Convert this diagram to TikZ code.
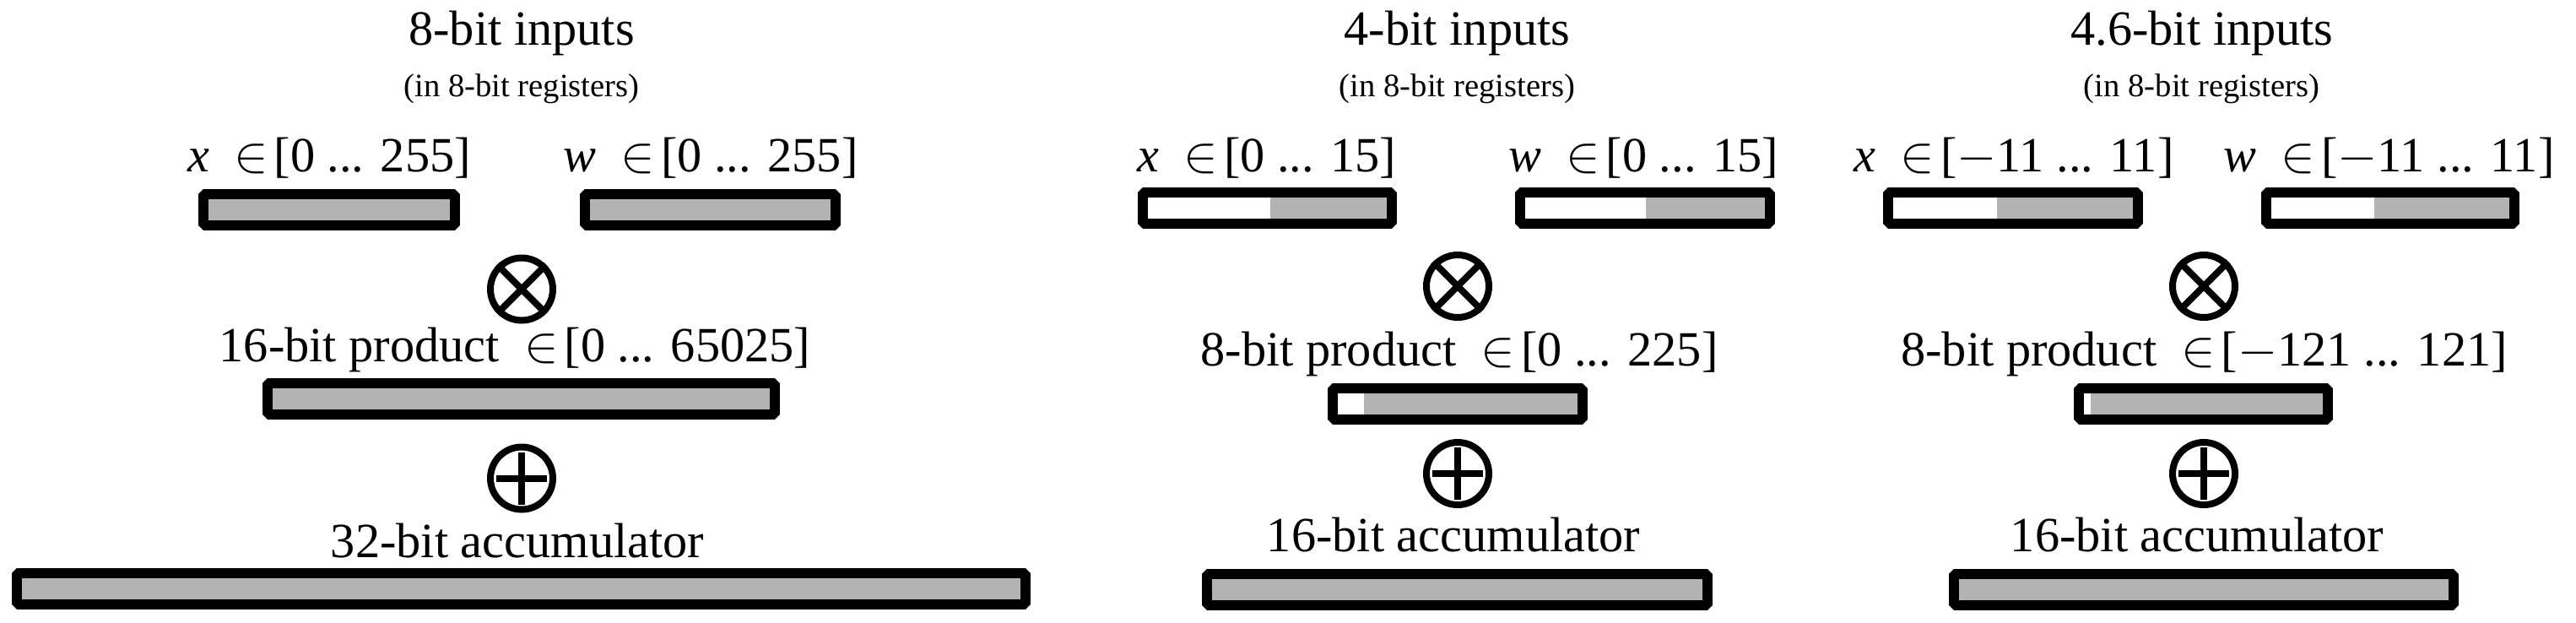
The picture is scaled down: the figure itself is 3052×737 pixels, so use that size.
\documentclass[tikz,border=0pt]{standalone}
\usepackage{fontspec}
\setmainfont{Liberation Serif}
\usetikzlibrary{calc}
\definecolor{regfill}{RGB}{179,179,179}
\tikzset{
  lbl/.style={font=\fontsize{16.6}{20}\selectfont, anchor=base, inner sep=0pt},
  sublbl/.style={font=\fontsize{11}{13}\selectfont, anchor=base, inner sep=0pt},
  regline/.style={draw=black, line width=1.2mm, line join=bevel},
  opcirc/.style={circle, draw=black, line width=0.8mm, minimum size=7.4mm, inner sep=0pt},
  opbar/.style={line width=0.8mm},
}
% #1 left outer x, #2 right outer x, #3 top outer y, #4 x where gray begins
\newcommand{\regbox}[4]{%
  \fill[regfill] (#4,#3+6) rectangle (#2-6,#3+43);
  \draw[regline] (#1+6,#3+6) rectangle (#2-6,#3+43);
}
\newcommand{\inrange}[1]{\hspace{.5em}$\in$\hspace{.12em}[#1]}
\newcommand{\xlbl}[1]{\textit{x}\inrange{#1}}
\newcommand{\wlbl}[1]{\textit{w}\inrange{#1}}
\begin{document}
\begin{tikzpicture}[x=0.1mm, y=-0.1mm]
\useasboundingbox (0,0) rectangle (3052,737);

% ---------- left group: 8-bit ----------
\node[lbl] (titleL) at (618,53) {8-bit inputs};
\node[sublbl] (subL) at (618,114) {(in 8-bit registers)};
\node[lbl] (xlabL) at (390,203) {\xlbl{0 ... 255}};
\node[lbl] (wlabL) at (842,203) {\wlbl{0 ... 255}};
\regbox{235}{545}{224}{241}
\regbox{687}{996}{224}{693}
\node[opcirc] (mulL) at (618,342.5) {};
\draw[opbar] (mulL.north west) -- (mulL.south east);
\draw[opbar] (mulL.north east) -- (mulL.south west);
\node[lbl] (prodL) at (610,428) {16-bit product\inrange{0 ... 65025}};
\regbox{311}{924}{448}{317}
\node[opcirc] (addL) at (618,566.5) {};
\draw[opbar] ($(addL.center)+(0,-31)$) -- ($(addL.center)+(0,31)$);
\draw[opbar] ($(addL.center)+(-30,0)$) -- ($(addL.center)+(30,0)$);
\node[lbl] (accL) at (613,660) {32-bit accumulator};
\regbox{14}{1221}{673}{20}

% ---------- middle group: 4-bit ----------
\node[lbl] (titleM) at (1726.5,53) {4-bit inputs};
\node[sublbl] (subM) at (1726.5,114) {(in 8-bit registers)};
\node[lbl] (xlabM) at (1501,203) {\xlbl{0 ... 15}};
\node[lbl] (wlabM) at (1947,203) {\wlbl{0 ... 15}};
\regbox{1348}{1655}{222}{1505}
\regbox{1795}{2103}{222}{1950}
\node[opcirc] (mulM) at (1727,339) {};
\draw[opbar] (mulM.north west) -- (mulM.south east);
\draw[opbar] (mulM.north east) -- (mulM.south west);
\node[lbl] (prodM) at (1729,433) {8-bit product\inrange{0 ... 225}};
\regbox{1573}{1881}{454}{1616}
\node[opcirc] (addM) at (1727,561) {};
\draw[opbar] ($(addM.center)+(0,-31)$) -- ($(addM.center)+(0,31)$);
\draw[opbar] ($(addM.center)+(-30,0)$) -- ($(addM.center)+(30,0)$);
\node[lbl] (accM) at (1722,653) {16-bit accumulator};
\regbox{1424}{2029}{674}{1430}

% ---------- right group: 4.6-bit ----------
\node[lbl] (titleR) at (2609,53) {4.6-bit inputs};
\node[sublbl] (subR) at (2608.5,114) {(in 8-bit registers)};
\node[lbl] (xlabR) at (2386,203) {\xlbl{$-$11 ... 11}};
\node[lbl] (wlabR) at (2830.5,203) {\wlbl{$-$11 ... 11}};
\regbox{2231}{2539}{222}{2366}
\regbox{2679}{2985}{222}{2813}
\node[opcirc] (mulR) at (2611,339) {};
\draw[opbar] (mulR.north west) -- (mulR.south east);
\draw[opbar] (mulR.north east) -- (mulR.south west);
\node[lbl] (prodR) at (2611.5,433) {8-bit product\inrange{$-$121 ... 121}};
\regbox{2457}{2764}{454}{2477}
\node[opcirc] (addR) at (2611,561) {};
\draw[opbar] ($(addR.center)+(0,-31)$) -- ($(addR.center)+(0,31)$);
\draw[opbar] ($(addR.center)+(-30,0)$) -- ($(addR.center)+(30,0)$);
\node[lbl] (accR) at (2603,653) {16-bit accumulator};
\regbox{2309}{2913}{674}{2315}
\end{tikzpicture}
\end{document}
